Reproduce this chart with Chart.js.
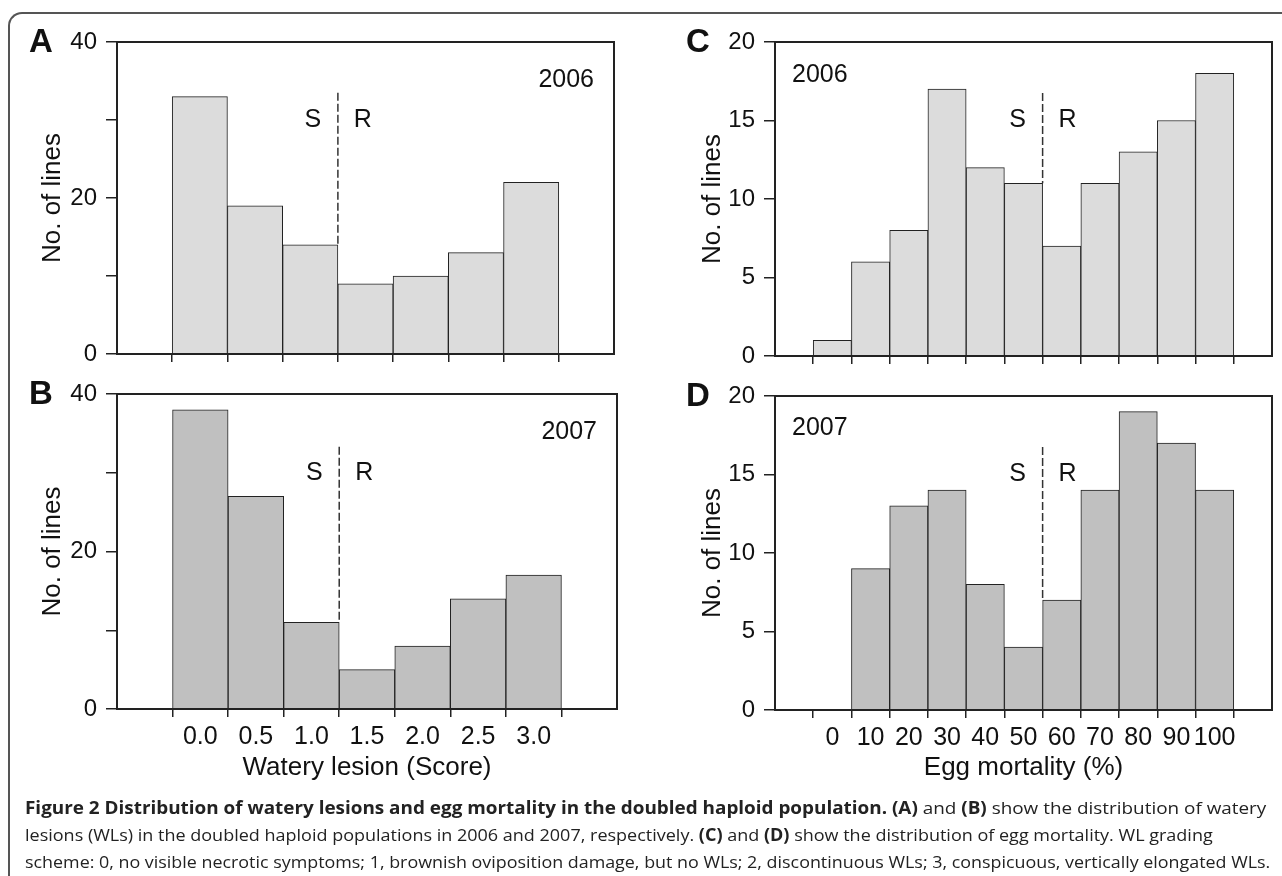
<!DOCTYPE html>
<html>
<head>
<meta charset="utf-8">
<title>Figure 2</title>
<script src="https://cdn.jsdelivr.net/npm/chart.js@4.4.1/dist/chart.umd.min.js"></script>
<style>
  html, body { margin: 0; padding: 0; background: #fff; }
  body { width: 1282px; height: 876px; position: relative; overflow: hidden; }
  .frame { position: absolute; left: 8px; top: 12px; width: 1400px; height: 1000px;
           border-left: 2px solid #555; border-top: 2px solid #555; border-top-left-radius: 14px; }
  .panel { position: absolute; }
  #caption { position: absolute; left: 25px; top: 794px; font-family: "Open Sans", sans-serif;
             font-size: 17px; line-height: 27px; color: #222; white-space: nowrap; }
  #caption div span { display: inline-block; transform-origin: 0 50%; }
</style>
</head>
<body>
<div class="frame"></div>
<div class="panel" id="pA" style="left:0;top:0;width:640px;height:380px"><canvas id="cA"></canvas></div>
<div class="panel" id="pB" style="left:0;top:370px;width:640px;height:430px"><canvas id="cB"></canvas></div>
<div class="panel" id="pC" style="left:640px;top:0;width:642px;height:380px"><canvas id="cC"></canvas></div>
<div class="panel" id="pD" style="left:640px;top:370px;width:642px;height:430px"><canvas id="cD"></canvas></div>
<div id="caption">
  <div><span data-w="1241"><b>Figure 2 Distribution of watery lesions and egg mortality in the doubled haploid population.</b> <b>(A)</b> and <b>(B)</b> show the distribution of watery</span></div>
  <div><span data-w="1188">lesions (WLs) in the doubled haploid populations in 2006 and 2007, respectively. <b>(C)</b> and <b>(D)</b> show the distribution of egg mortality. WL grading</span></div>
  <div><span data-w="1245">scheme: 0, no visible necrotic symptoms; 1, brownish oviposition damage, but no WLs; 2, discontinuous WLs; 3, conspicuous, vertically elongated WLs.</span></div>
</div>
<script>
// watery lesion score histograms (A, B)
const wlCats = ['0.0', '0.5', '1.0', '1.5', '2.0', '2.5', '3.0'];
const wl2006 = [33, 19, 14, 9, 10, 13, 22];
const wl2007 = [38, 27, 11, 5, 8, 14, 17];
const wlYLabels = [0, 20, 40];

// egg mortality histograms (C, D)
const emCats = ['0', '10', '20', '30', '40', '50', '60', '70', '80', '90', '100'];
const em2006 = [1, 6, 8, 17, 12, 11, 7, 11, 13, 15, 18];
const em2007 = [0, 9, 13, 14, 8, 4, 7, 14, 19, 17, 14];
const emYLabels = [0, 5, 10, 15, 20];

const FONT = '"Liberation Sans", Arial, Helvetica, sans-serif';
Chart.defaults.font.family = FONT;
Chart.defaults.color = '#111';

// frame, S|R divider, panel letter and year
const decor = {
  id: 'decor',
  afterDraw(chart, args, o) {
    const {ctx, chartArea: a, scales: {x, y}} = chart;
    ctx.save();
    ctx.strokeStyle = '#222';
    ctx.lineWidth = 2;
    ctx.strokeRect(a.left, a.top, a.right - a.left, a.bottom - a.top);

    const vals = o.values;
    const k = o.split;
    const xd = (x.getPixelForValue(k + 1) + x.getPixelForValue(k + 2)) / 2;
    ctx.beginPath();
    ctx.setLineDash([8, 3]);
    ctx.strokeStyle = '#333';
    ctx.lineWidth = 1.5;
    ctx.moveTo(xd, y.getPixelForValue(o.dashTop));
    ctx.lineTo(xd, y.getPixelForValue(Math.max(vals[k], vals[k + 1])));
    ctx.stroke();
    ctx.setLineDash([]);

    ctx.fillStyle = '#111';
    ctx.textBaseline = 'middle';
    ctx.textAlign = 'center';
    ctx.font = '25px ' + FONT;
    const ys = y.getPixelForValue(o.srValue);
    ctx.fillText('S', xd - 25, ys);
    ctx.fillText('R', xd + 25, ys);

    ctx.textAlign = o.yearAlign;
    const xy = o.yearAlign === 'right' ? a.right - 20 : a.left + 17;
    ctx.fillText(o.year, xy, a.top + o.yearDy);

    ctx.textAlign = 'center';
    ctx.font = 'bold 33px ' + FONT;
    ctx.fillText(o.letter, a.left + o.letterDx, a.top + 1);
    ctx.restore();
  }
};

function makePanel(id, p) {
  const labels = [''].concat(p.cats, ['']);
  const data = [null].concat(p.values, [null]);
  new Chart(document.getElementById(id), {
    type: 'bar',
    data: {
      labels: labels,
      datasets: [{
        data: data,
        backgroundColor: p.fill,
        borderColor: '#222',
        borderWidth: 1,
        barPercentage: 1,
        categoryPercentage: 1
      }]
    },
    options: {
      responsive: true,
      maintainAspectRatio: false,
      animation: false,
      layout: { padding: { left: p.pl, top: p.pt, right: p.pr, bottom: p.pb } },
      plugins: {
        legend: { display: false },
        tooltip: { enabled: false },
        decor: {
          values: p.values, split: p.split, dashTop: p.dashTop, srValue: p.srValue,
          year: p.year, yearAlign: p.yearAlign, yearDy: p.yearDy,
          letter: p.letter, letterDx: p.letterDx
        }
      },
      scales: {
        x: {
          offset: true,
          grid: {
            offset: true,
            drawOnChartArea: false,
            tickLength: 8,
            lineWidth: 1.5,
            color: c => (c.index > 0 ? '#222' : 'rgba(0,0,0,0)')
          },
          border: { display: true, color: '#222', width: 2 },
          ticks: {
            display: p.showX, autoSkip: false, maxRotation: 0, minRotation: 0,
            padding: 5, color: '#111', font: { size: 25 }
          },
          title: { display: p.showX, text: p.xTitle, color: '#111', font: { size: 26 }, padding: 0 },
          afterFit: s => { s.height = p.xh; }
        },
        y: {
          min: 0,
          max: p.yMax,
          ticks: {
            stepSize: p.yStep,
            padding: 9,
            color: '#111',
            font: { size: 24 },
            callback: v => (p.yLabels.includes(v) ? String(v) : '')
          },
          grid: { drawOnChartArea: false, tickLength: 11, lineWidth: 1.5, color: '#222' },
          border: { display: true, color: '#222', width: 2 },
          title: { display: true, text: 'No. of lines', color: '#111', font: { size: 26 }, padding: 0 },
          afterFit: s => { s.width = p.yw; }
        }
      }
    },
    plugins: [decor]
  });
}

makePanel('cA', {
  cats: wlCats, values: wl2006, fill: '#dcdcdc', letter: 'A', letterDx: -76,
  year: '2006', yearAlign: 'right', yearDy: 38, split: 2, dashTop: 33.5, srValue: 30,
  yMax: 40, yStep: 10, yLabels: wlYLabels, showX: false, xTitle: '',
  pl: 37, pt: 42, pr: 26, pb: 6, yw: 80, xh: 20
});
makePanel('cB', {
  cats: wlCats, values: wl2007, fill: '#c0c0c0', letter: 'B', letterDx: -76,
  year: '2007', yearAlign: 'right', yearDy: 38, split: 2, dashTop: 33.3, srValue: 30,
  yMax: 40, yStep: 10, yLabels: wlYLabels, showX: true, xTitle: 'Watery lesion (Score)',
  pl: 37, pt: 24, pr: 23, pb: 17, yw: 80, xh: 74
});
makePanel('cC', {
  cats: emCats, values: em2006, fill: '#dcdcdc', letter: 'C', letterDx: -77,
  year: '2006', yearAlign: 'left', yearDy: 33, split: 5, dashTop: 16.75, srValue: 15,
  yMax: 20, yStep: 5, yLabels: emYLabels, showX: false, xTitle: '',
  pl: 57, pt: 42, pr: 10, pb: 4, yw: 78, xh: 20
});
makePanel('cD', {
  cats: emCats, values: em2007, fill: '#c0c0c0', letter: 'D', letterDx: -77,
  year: '2007', yearAlign: 'left', yearDy: 32, split: 5, dashTop: 16.75, srValue: 15,
  yMax: 20, yStep: 5, yLabels: emYLabels, showX: true, xTitle: 'Egg mortality (%)',
  pl: 57, pt: 26, pr: 10, pb: 17, yw: 78, xh: 73
});

// stretch each caption line to the width it has in the original figure
function fitCaption() {
  document.querySelectorAll('#caption span[data-w]').forEach(s => {
    s.style.transform = 'scaleX(' + (Number(s.dataset.w) / s.offsetWidth) + ')';
  });
}
fitCaption();
if (document.fonts) document.fonts.ready.then(fitCaption);
</script>
</body>
</html>
